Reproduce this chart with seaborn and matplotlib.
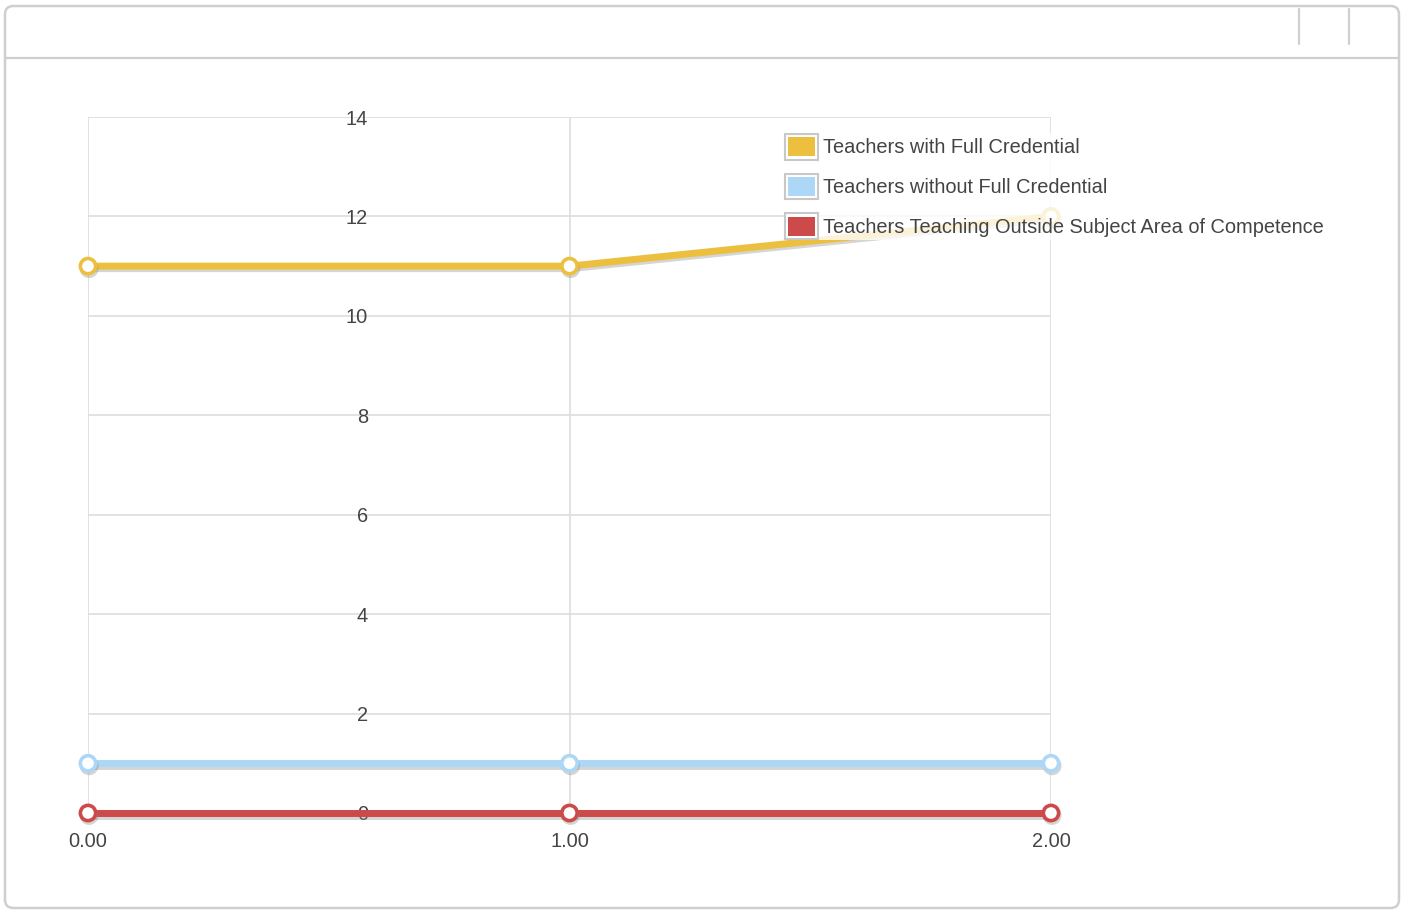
import matplotlib
matplotlib.use("Agg")
import matplotlib.pyplot as plt
import matplotlib.patheffects as pe
from matplotlib.patches import FancyBboxPatch, Rectangle
from matplotlib.lines import Line2D
from matplotlib.legend_handler import HandlerBase
from matplotlib.ticker import FormatStrFormatter, MultipleLocator
import pandas as pd
import seaborn as sns

# Series values per x position
x_positions = [0, 1, 2]
full_credential = [11, 11, 12]
without_credential = [1, 1, 1]
outside_subject = [0, 0, 0]

series_names = [
    "Teachers with Full Credential",
    "Teachers without Full Credential",
    "Teachers Teaching Outside Subject Area of Competence",
]
series_colors = ["#ECC03E", "#ADD7F6", "#CC4A4A"]

sns.set_theme(style="white")
plt.rcParams["font.family"] = ["Liberation Sans", "DejaVu Sans"]

df = pd.concat(
    [
        pd.DataFrame({"x": x_positions, "value": vals, "series": name})
        for name, vals in zip(series_names, [full_credential, without_credential, outside_subject])
    ],
    ignore_index=True,
)

W, H = 1403, 910
fig = plt.figure(figsize=(W / 100, H / 100), dpi=100)
fig.patch.set_facecolor("white")

# Outer panel with header strip
panel = FancyBboxPatch(
    (5 / W, 2 / H), 1394 / W, (H - 8) / H,
    boxstyle="round,pad=0,rounding_size=0.006",
    transform=fig.transFigure, facecolor="white", edgecolor="#CFCFCF", linewidth=1.8,
    mutation_aspect=W / H, zorder=-10,
)
fig.patches.append(panel)
fig.lines.append(Line2D([5 / W, 1399 / W], [1 - 58 / H, 1 - 58 / H], transform=fig.transFigure,
                        color="#CFCFCF", linewidth=1.6, zorder=-9))
for xs in (1299, 1349):
    fig.lines.append(Line2D([xs / W, xs / W], [1 - 9 / H, 1 - 44 / H], transform=fig.transFigure,
                            color="#CFCFCF", linewidth=1.6, zorder=-9))

ax = fig.add_axes([88 / W, 1 - 813 / H, (1051 - 88) / W, (813 - 117) / H])
ax.set_facecolor("none")

sns.lineplot(
    data=df, x="x", y="value", hue="series", hue_order=series_names,
    palette=series_colors, marker="o", markersize=11, markerfacecolor="white",
    linewidth=5, ax=ax, legend=False, clip_on=False,
)

for line, color in zip(ax.lines, series_colors):
    line.set_markeredgecolor(color)
    line.set_markeredgewidth(2.6)
    line.set_path_effects([
        pe.SimpleLineShadow(offset=(0.8, -1.8), shadow_color="#888888", alpha=0.35),
        pe.Normal(),
    ])

ax.set_xlim(0, 2)
ax.set_ylim(0, 14)
ax.xaxis.set_major_locator(MultipleLocator(1))
ax.yaxis.set_major_locator(MultipleLocator(2))
ax.xaxis.set_major_formatter(FormatStrFormatter("%.2f"))
ax.set_xlabel("")
ax.set_ylabel("")
ax.grid(True, color="#DDDDDD", linewidth=1.2)
ax.set_axisbelow(True)
for s in ax.spines.values():
    s.set_visible(False)

ax.tick_params(axis="x", length=0, pad=14, labelsize=14.4, labelcolor="#444444")
ax.tick_params(axis="y", length=0, pad=-201.6, labelsize=14.4, labelcolor="#444444")


class SwatchHandler(HandlerBase):
    def __init__(self, color):
        super().__init__()
        self.color = color

    def create_artists(self, legend, orig_handle, xdescent, ydescent, width, height, fontsize, trans):
        outer = Rectangle((-xdescent, -ydescent), width, height, facecolor="white",
                          edgecolor="#C8C8C8", linewidth=1.5, transform=trans)
        inset = 2.5
        inner = Rectangle((-xdescent + inset, -ydescent + inset), width - 2 * inset, height - 2 * inset,
                          facecolor=self.color, edgecolor="none", transform=trans)
        return [outer, inner]


handles = [Rectangle((0, 0), 1, 1) for _ in series_names]
leg = ax.legend(
    handles, series_names,
    handler_map={h: SwatchHandler(c) for h, c in zip(handles, series_colors)},
    loc="upper left", bbox_to_anchor=(784 / W, 1 - 133 / H), bbox_transform=fig.transFigure,
    frameon=True, framealpha=0.8, edgecolor="none", facecolor="white", fancybox=False,
    fontsize=14.4, handlelength=1.65, handleheight=1.6, handletextpad=0.25,
    labelspacing=0.7, borderpad=0.05, borderaxespad=0,
)
for t in leg.get_texts():
    t.set_color("#444444")

fig.savefig("out.png", dpi=100, facecolor="white")
